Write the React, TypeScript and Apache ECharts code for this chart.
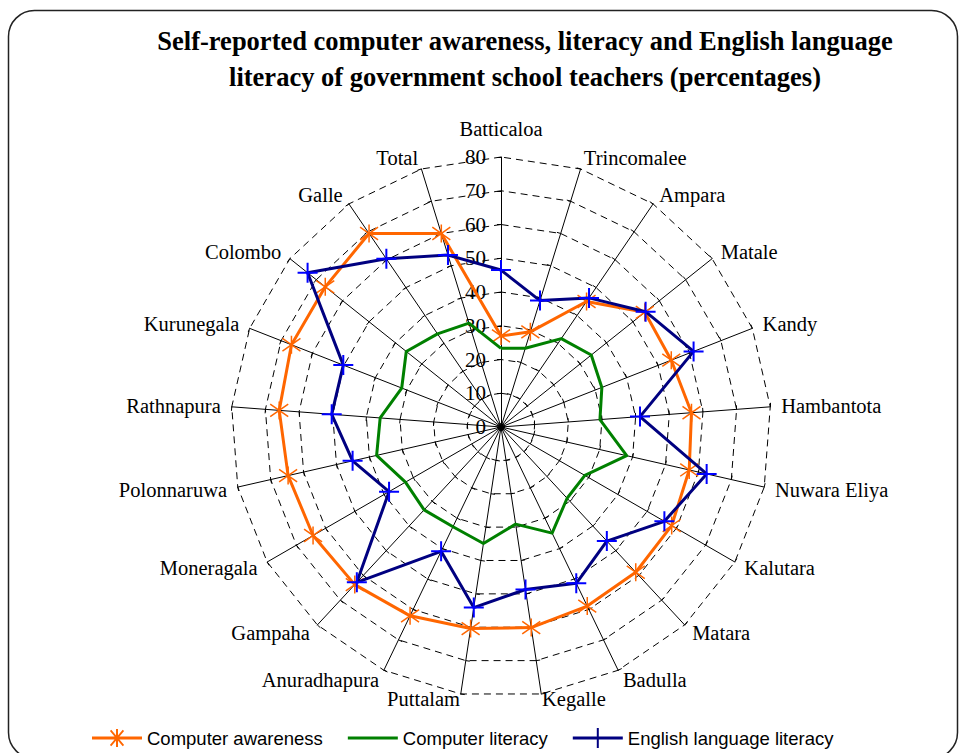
import React, { useEffect, useRef } from 'react';
import * as echarts from 'echarts';

const categories = [
  'Batticaloa', 'Trincomalee', 'Ampara', 'Matale', 'Kandy', 'Hambantota', 'Nuwara Eliya',
  'Kalutara', 'Matara', 'Badulla', 'Kegalle', 'Puttalam', 'Anuradhapura', 'Gampaha',
  'Moneragala', 'Polonnaruwa', 'Rathnapura', 'Kurunegala', 'Colombo', 'Galle', 'Total',
];
const computerAwareness = [27, 29.5, 45, 54.5, 54.2, 56.6, 57.2, 58.4, 58.7, 58.9, 60.1, 60.4, 62.1, 63.7, 64.3, 64.7, 65.9, 66.7, 66.6, 69.4, 60.0];
const computerLiteracy = [23.3, 24.4, 31.7, 34.2, 32.1, 29.4, 38.2, 28.7, 28.8, 34.9, 29.1, 34.9, 32.8, 33.5, 32.7, 37.8, 35.9, 31.6, 35.9, 33.4, 32.2];
const englishLiteracy = [46.5, 39.2, 46.3, 54.8, 61.3, 41.3, 62.5, 55.9, 46.1, 51.4, 48.7, 54.1, 40.9, 62.8, 38.3, 45.1, 50.3, 50.2, 73.3, 60.3, 53.3];
const axisMin = 0;
const axisMax = 80;
const axisSplits = 8;
const seriesNames = ['Computer awareness', 'Computer literacy', 'English language literacy'];
const titleLines = [
  'Self-reported computer awareness, literacy and English language',
  'literacy of government school teachers (percentages)',
];

const SERIF = '"Liberation Serif", "Times New Roman", serif';
const SANS = '"Liberation Sans", Arial, sans-serif';

const starSymbol = 'path://M10,0 L10,20 M2.5,3 L17.5,17 M2.5,17 L17.5,3';
const plusSymbol = 'path://M0,10 L20,10 M10,0 L10,20';
const legendStar = 'path://M0,8.5 L50,8.5 L50,11.5 L0,11.5 Z M24,1 L26,1 L26,19 L24,19 Z M17.9,3.1 L19.3,1.7 L32.1,16.9 L30.7,18.3 Z M17.9,16.9 L30.7,1.7 L32.1,3.1 L19.3,18.3 Z';
const legendLine = 'path://M0,8.5 L50,8.5 L50,11.5 L0,11.5 Z';
const legendPlus = 'path://M0,8.5 L50,8.5 L50,11.5 L0,11.5 Z M24,0 L26,0 L26,20 L24,20 Z';

export default function App() {
  const ref = useRef<HTMLDivElement>(null);
  useEffect(() => {
    if (!ref.current) return;
    const chart = echarts.init(ref.current, null, { renderer: 'svg' });
    // ECharts lays radar indicators counter-clockwise; reorder so they run clockwise
    const order = [0];
    for (let i = categories.length - 1; i >= 1; i--) order.push(i);
    const pick = (arr: number[]) => order.map((i) => arr[i]);

    const indicator = order.map((i, k) => {
      const base: any = { name: categories[i], min: axisMin, max: axisMax };
      if (k === 0) {
        base.nameGap = 18;
        base.axisLabel = {
          show: true,
          color: '#000',
          fontFamily: SERIF,
          fontSize: 21,
          margin: 15,
        };
      }
      if (categories[i] === 'Puttalam' || categories[i] === 'Kegalle') base.nameGap = 5;
      return base;
    });

    const option: any = {
      animation: false,
      backgroundColor: '#fff',
      title: {
        text: titleLines.join('\n'),
        left: 520,
        top: 18,
        textAlign: 'center',
        textStyle: {
          fontFamily: SERIF,
          fontWeight: 'bold',
          fontSize: 26.5,
          lineHeight: 36,
          color: '#000',
        },
      },
      legend: {
        left: 92,
        top: 728,
        padding: 0,
        itemWidth: 50,
        itemHeight: 20,
        itemGap: 25,
        textStyle: { fontFamily: SANS, fontSize: 18.5, color: '#000' },
        data: [
          { name: seriesNames[0], icon: legendStar, itemStyle: { color: '#FF6600', borderWidth: 0 } },
          { name: seriesNames[1], icon: legendLine, itemStyle: { color: '#008000', borderWidth: 0 } },
          { name: seriesNames[2], icon: legendPlus, itemStyle: { color: '#000080', borderWidth: 0 } },
        ],
      },
      radar: {
        center: [501, 427],
        radius: 270,
        startAngle: 90,
        shape: 'polygon',
        splitNumber: axisSplits,
        nameGap: 11,
        axisName: { color: '#000', fontFamily: SERIF, fontSize: 20.5 },
        axisLine: { lineStyle: { color: '#000', width: 1 } },
        axisTick: { show: true, length: 4, lineStyle: { color: '#000', width: 1 } },
        axisLabel: { show: false },
        splitLine: { lineStyle: { color: '#000', width: 1, type: [7, 5] } },
        splitArea: { show: false },
        indicator,
      },
      graphic: [
        {
          type: 'rect',
          shape: { x: 8.5, y: 10.5, width: 949, height: 748, r: 26 },
          style: { fill: 'none', stroke: '#222', lineWidth: 1.5 },
          silent: true,
          z: 0,
        },
      ],
      series: [
        {
          type: 'radar',
          z: 2,
          data: [
            {
              name: seriesNames[0],
              value: pick(computerAwareness),
              symbol: starSymbol,
              symbolSize: 18,
              symbolKeepAspect: true,
              lineStyle: { color: '#FF6600', width: 3 },
              itemStyle: { color: '#FF6600', borderColor: '#FF6600', borderWidth: 1.5 },
            },
          ],
        },
        {
          type: 'radar',
          z: 3,
          data: [
            {
              name: seriesNames[1],
              value: pick(computerLiteracy),
              symbol: 'none',
              lineStyle: { color: '#008000', width: 3 },
              itemStyle: { color: '#008000' },
            },
          ],
        },
        {
          type: 'radar',
          z: 4,
          data: [
            {
              name: seriesNames[2],
              value: pick(englishLiteracy),
              symbol: plusSymbol,
              symbolSize: 20,
              symbolKeepAspect: true,
              lineStyle: { color: '#000080', width: 3 },
              itemStyle: { color: '#0000FF', borderColor: '#0000FF', borderWidth: 2 },
            },
          ],
        },
      ],
    };
    chart.setOption(option);
    return () => chart.dispose();
  }, []);
  return (
    <div
      ref={ref}
      style={{ position: 'fixed', left: 0, top: 0, width: 960, height: 753, background: '#fff' }}
    />
  );
}
